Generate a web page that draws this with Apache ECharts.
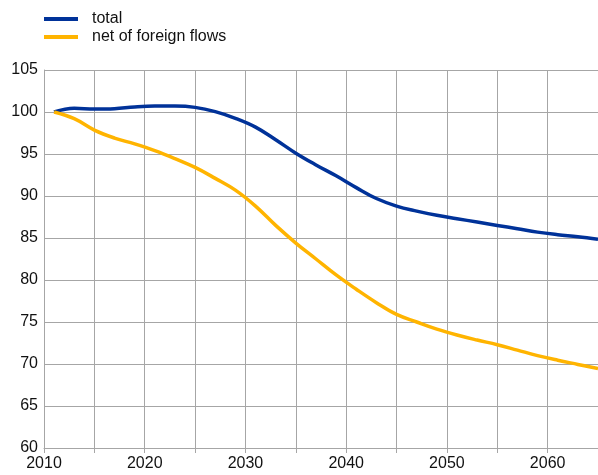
<!DOCTYPE html>
<html>
<head>
<meta charset="utf-8">
<script src="https://cdn.jsdelivr.net/npm/echarts@6/dist/echarts.min.js"></script>
<style>
  html, body { margin: 0; padding: 0; background: #fff; }
  #chart { width: 598px; height: 475px; }
</style>
</head>
<body>
<div id="chart"></div>
<script>
// index, 2011 = 100
const years = [2011, 2013, 2015, 2017, 2019, 2021, 2023, 2025, 2027, 2029, 2031, 2033, 2035, 2037, 2039,
  2041, 2043, 2045, 2047, 2049, 2051, 2053, 2055, 2057, 2059, 2061, 2063, 2065];
const total = [100.0, 100.45, 100.35, 100.4, 100.6, 100.7, 100.7, 100.55, 100.05, 99.25, 98.2, 96.7, 95.1, 93.7, 92.4,
  91.0, 89.7, 88.8, 88.2, 87.7, 87.3, 86.9, 86.5, 86.1, 85.7, 85.4, 85.15, 84.85];
const netOfForeign = [100.0, 99.2, 97.85, 96.9, 96.2, 95.4, 94.45, 93.4, 92.1, 90.7, 88.8, 86.5, 84.4, 82.5, 80.6,
  78.9, 77.3, 75.9, 75.0, 74.15, 73.45, 72.85, 72.3, 71.65, 71.0, 70.45, 69.95, 69.45];
const seriesNames = ['total', 'net of foreign flows'];

const pairs = vals => years.map((y, i) => [y, vals[i]]);

const myChart = echarts.init(document.getElementById('chart'));

const option = {
  animation: false,
  textStyle: { fontFamily: 'Liberation Sans, Arial, sans-serif' },
  legend: {
    orient: 'vertical',
    left: 39,
    top: 6,
    itemWidth: 34,
    itemHeight: 4,
    itemGap: 2,
    icon: 'rect',
    textStyle: { fontSize: 16, color: '#111', padding: [0, 0, 0, 9] },
    data: seriesNames
  },
  grid: { left: 44, right: -2, top: 70, bottom: 27 },
  xAxis: {
    type: 'value',
    min: 2010,
    max: 2065,
    interval: 5,
    axisLine: { show: true, lineStyle: { color: '#a6a6a6', width: 1 } },
    axisTick: { show: true, length: 5, lineStyle: { color: '#a6a6a6' } },
    axisLabel: {
      fontSize: 16,
      color: '#111',
      margin: 8,
      showMaxLabel: false,
      formatter: v => (v % 10 === 0 ? String(v) : '')
    },
    splitLine: { show: true, lineStyle: { color: '#a6a6a6', width: 1 } }
  },
  yAxis: {
    type: 'value',
    min: 60,
    max: 105,
    interval: 5,
    axisLine: { show: true, lineStyle: { color: '#a6a6a6', width: 1 } },
    axisTick: { show: false },
    axisLabel: { fontSize: 16, color: '#111', margin: 6 },
    splitLine: { show: true, lineStyle: { color: '#a6a6a6', width: 1 } }
  },
  series: [
    {
      name: seriesNames[0],
      type: 'line',
      data: pairs(total),
      smooth: 0.4,
      showSymbol: false,
      lineStyle: { color: '#003299', width: 3.5 },
      itemStyle: { color: '#003299' }
    },
    {
      name: seriesNames[1],
      type: 'line',
      data: pairs(netOfForeign),
      smooth: 0.4,
      showSymbol: false,
      lineStyle: { color: '#ffb400', width: 3.5 },
      itemStyle: { color: '#ffb400' }
    }
  ]
};

myChart.setOption(option);
</script>
</body>
</html>
